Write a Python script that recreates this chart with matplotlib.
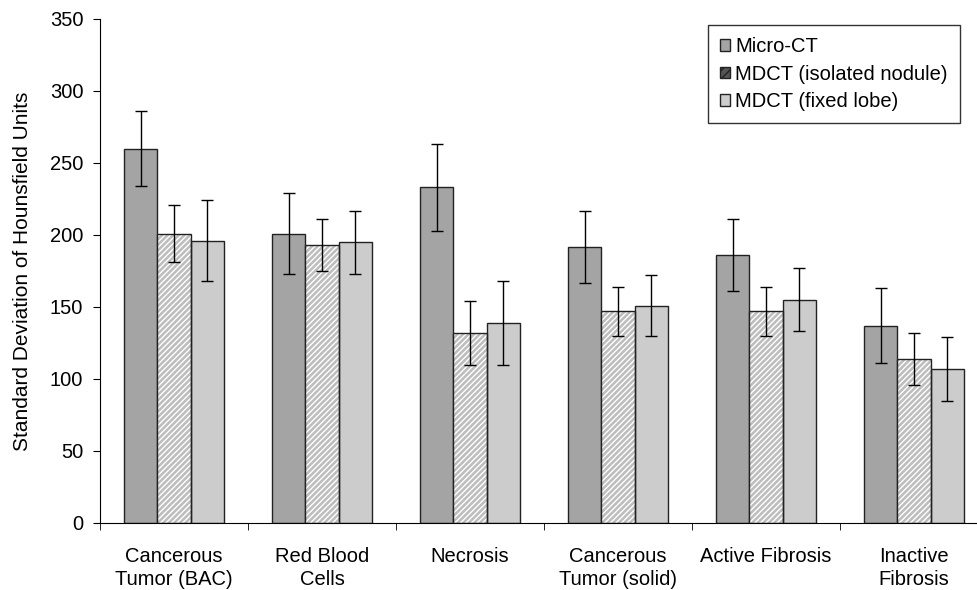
import numpy as np
import matplotlib.pyplot as plt
from matplotlib.patches import Patch

plt.rcParams["font.family"] = ["Liberation Sans", "DejaVu Sans"]

# data
categories = ["Cancerous\nTumor (BAC)", "Red Blood\nCells", "Necrosis",
              "Cancerous\nTumor (solid)", "Active Fibrosis", "Inactive\nFibrosis"]
series_names = ["Micro-CT", "MDCT (isolated nodule)", "MDCT (fixed lobe)"]

micro_ct = [260, 201, 233, 192, 186, 137]
micro_ct_err = [26, 28, 30, 25, 25, 26]
mdct_nodule = [201, 193, 132, 147, 147, 114]
mdct_nodule_err = [20, 18, 22, 17, 17, 18]
mdct_lobe = [196, 195, 139, 151, 155, 107]
mdct_lobe_err = [28, 22, 29, 21, 22, 22]

fig = plt.figure(figsize=(9.77, 5.90), dpi=100)
ax = fig.add_axes([100 / 977, 67 / 590, 888 / 977, 504 / 590])

x = np.arange(len(categories))
w = 0.224
err_kw = dict(ecolor="black", elinewidth=1, capsize=4, capthick=1)

ax.bar(x - w, micro_ct, w, color="#a4a4a4", edgecolor="#222222", linewidth=1,
       yerr=micro_ct_err, error_kw=err_kw, zorder=2)
# hatched bars: white hatch over grey, then black outline on top
ax.bar(x, mdct_nodule, w, color="#bdbdbd", edgecolor="white", hatch="//////",
       linewidth=0, zorder=2)
ax.bar(x, mdct_nodule, w, fill=False, edgecolor="#222222", linewidth=1,
       yerr=mdct_nodule_err, error_kw=err_kw, zorder=3)
ax.bar(x + w, mdct_lobe, w, color="#cccccc", edgecolor="#222222", linewidth=1,
       yerr=mdct_lobe_err, error_kw=err_kw, zorder=2)

ax.set_xlim(-0.5, len(categories) - 0.5)
ax.set_ylim(0, 350)
ax.set_yticks(range(0, 351, 50))
ax.set_xticks(x)
ax.set_xticklabels(categories, fontsize=14.5, linespacing=1.3)
ax.set_xticks(np.arange(-0.5, len(categories), 1), minor=True)
ax.tick_params(axis="x", which="major", length=0, pad=17)
ax.tick_params(axis="x", which="minor", length=5, direction="out")
ax.tick_params(axis="y", length=5, direction="out", labelsize=14.5, pad=7)
ax.set_ylabel("Standard Deviation of Hounsfield Units", fontsize=15, labelpad=13)

for side in ["top", "right"]:
    ax.spines[side].set_visible(False)

handles = [
    Patch(facecolor="#a4a4a4", edgecolor="#222222"),
    Patch(facecolor="#555555", edgecolor="#222222", hatch="////"),
    Patch(facecolor="#cccccc", edgecolor="#222222"),
]
leg = fig.legend(handles, series_names, loc="upper right",
                 bbox_to_anchor=(960 / 977, 1 - 25 / 590), fontsize=14.5,
                 frameon=True, fancybox=False, handlelength=0.5,
                 handleheight=0.5, handletextpad=0.25, borderpad=0.6,
                 labelspacing=0.42, borderaxespad=0)
leg.get_frame().set_edgecolor("black")
leg.get_frame().set_linewidth(1)

fig.savefig("out.png", dpi=100)
